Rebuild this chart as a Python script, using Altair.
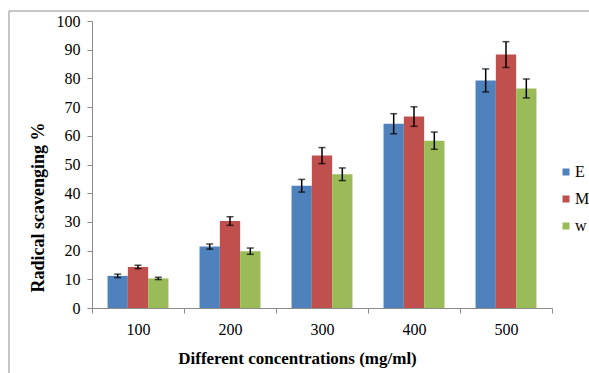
import altair as alt
import pandas as pd

concentrations = ["100", "200", "300", "400", "500"]
series = ["E", "M", "w"]
values_E = [11.2, 21.4, 42.6, 64.2, 79.3]
values_M = [14.3, 30.3, 53.1, 66.7, 88.3]
values_w = [10.3, 19.8, 46.6, 58.3, 76.5]
err_E = [0.6, 0.9, 2.2, 3.5, 4.0]
err_M = [0.6, 1.5, 2.8, 3.4, 4.5]
err_w = [0.4, 1.1, 2.2, 3.0, 3.3]

rows = []
for s, vals, errs in [("E", values_E, err_E), ("M", values_M, err_M), ("w", values_w, err_w)]:
    for c, v, e in zip(concentrations, vals, errs):
        rows.append({"conc": c, "series": s, "value": v, "lo": v - e, "hi": v + e})
df = pd.DataFrame(rows)

serif = "Liberation Serif"
colors = ["#4F81BD", "#C0504D", "#9BBB59"]

x_enc = alt.X(
    "conc:N",
    sort=concentrations,
    scale=alt.Scale(paddingInner=0, paddingOuter=0),
    axis=alt.Axis(
        title="Different concentrations (mg/ml)",
        labelAngle=0,
        tickBand="extent",
        tickSize=5,
        labelPadding=8,
        labelFontSize=16,
        labelColor="black",
        titleFontSize=17,
        titleFontWeight="bold",
        titleColor="black",
        titleX=205,
        titleY=50,
        titleBaseline="middle",
        domainColor="#8c8c8c",
        tickColor="#8c8c8c",
    ),
)
xoff = alt.XOffset("series:N", sort=series, scale=alt.Scale(paddingOuter=0.765, paddingInner=0))
y_scale = alt.Scale(domain=[0, 100])
y_axis = alt.Axis(
    title="Radical scavenging %",
    values=list(range(0, 101, 10)),
    grid=False,
    tickSize=5,
    labelPadding=7,
    labelFontSize=16,
    labelColor="black",
    labelOverlap=False,
    titleFontSize=18,
    titleFontWeight="bold",
    titleColor="black",
    titleX=-54,
    titleY=186,
    titleBaseline="middle",
    titleAlign="center",
    titleAngle=270,
    domainColor="#8c8c8c",
    tickColor="#8c8c8c",
)

base = alt.Chart(df)

bars = base.mark_bar().encode(
    x=x_enc,
    xOffset=xoff,
    y=alt.Y("value:Q", scale=y_scale, axis=y_axis),
    color=alt.Color(
        "series:N",
        sort=series,
        scale=alt.Scale(domain=series, range=colors),
        legend=alt.Legend(
            title=None,
            orient="none",
            legendX=466,
            legendY=143,
            padding=0,
            symbolType="square",
            symbolSize=49,
            symbolStrokeWidth=0,
            labelFontSize=16,
            labelColor="black",
            labelOffset=1,
            rowPadding=11,
        ),
    ),
)

rules = base.mark_rule(color="black", strokeWidth=1.5).encode(
    x=x_enc, xOffset=xoff, y=alt.Y("lo:Q", scale=y_scale, axis=y_axis), y2="hi:Q"
)
cap_lo = base.mark_tick(color="black", size=7, thickness=1.5).encode(
    x=x_enc, xOffset=xoff, y=alt.Y("lo:Q", scale=y_scale, axis=y_axis)
)
cap_hi = base.mark_tick(color="black", size=7, thickness=1.5).encode(
    x=x_enc, xOffset=xoff, y=alt.Y("hi:Q", scale=y_scale, axis=y_axis)
)

border = alt.Chart(alt.Data(values=[{}])).mark_rect(
    fill=None, stroke="#8c8c8c", strokeWidth=1
).encode(
    x=alt.value(-83), x2=alt.value(520), y=alt.value(-10), y2=alt.value(380)
)

chart = (
    alt.layer(border, bars, rules, cap_lo, cap_hi)
    .properties(
        width=460,
        height=287,
        padding={"left": 92, "top": 21, "right": 37, "bottom": 65},
        autosize=alt.AutoSizeParams(type="none"),
        background="white",
    )
    .configure(font=serif)
    .configure_view(stroke=None)
)

chart.save("out.html", embed_options={"renderer": "svg", "actions": False})
